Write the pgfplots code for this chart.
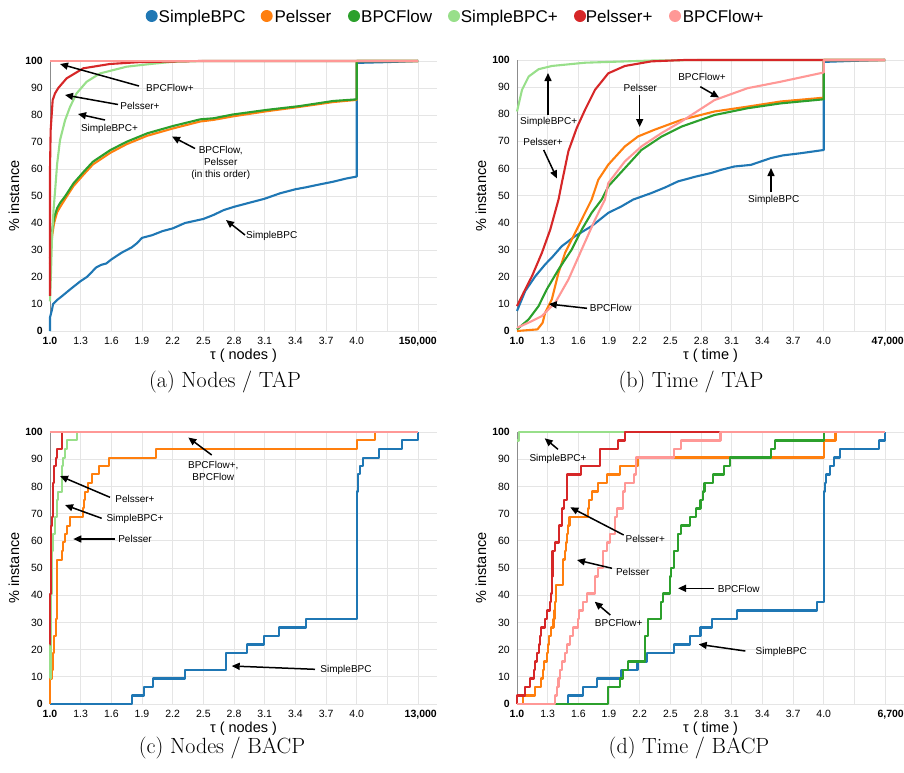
\documentclass[border=0pt]{standalone}
\usepackage{pgfplots}
\pgfplotsset{compat=1.18}
\usepackage{fontspec}
\usetikzlibrary{arrows.meta}
\newfontfamily\arial{Liberation Sans}
\newcommand\tickfont{\arial\fontsize{10.5}{12}\selectfont}
\newcommand\labfont{\arial\fontsize{14.5}{17}\selectfont}
\newcommand\annfont{\arial\fontsize{10}{12}\selectfont}
\newcommand\legfont{\arial\fontsize{17}{20}\selectfont}
\newcommand\capfont{\fontsize{22}{26}\selectfont}
\definecolor{cBlue}{HTML}{1F77B4}
\definecolor{cOrange}{HTML}{FF7F0E}
\definecolor{cGreen}{HTML}{2CA02C}
\definecolor{cLGreen}{HTML}{98DF8A}
\definecolor{cRed}{HTML}{D62728}
\definecolor{cPink}{HTML}{FF9896}
\pgfplotsset{
  myaxis/.style={
    scale only axis, width=387pt,
    xmin=1, xmax=4.785, ymin=0, ymax=100, clip=false,
    axis lines=left, axis line style={-},
    x axis line style={draw=none},
    y axis line style={draw=black!45, line width=0.8pt},
    grid=major, major grid style={draw=black!10, line width=0.8pt},
    major tick length=0pt,
    xtick={1,1.3,1.6,1.9,2.2,2.5,2.8,3.1,3.4,3.7,4,4.3,4.6},
    xticklabels={\textbf{1.0},1.3,1.6,1.9,2.2,2.5,2.8,3.1,3.4,3.7,4.0,{},{}},
    ytick={0,10,20,30,40,50,60,70,80,90,100},
    yticklabels={\textbf{0},10,20,30,40,50,60,70,80,90,\textbf{100}},
    ticklabel style={font=\tickfont},
    xticklabel style={inner sep=0pt, yshift=-5.5pt},
    yticklabel style={inner sep=0pt, xshift=-7pt},
    every axis plot/.append style={line width=2.1pt, no markers, line join=round},
  },
}
\tikzset{
  ann/.style={font=\annfont, align=center, inner sep=0pt},
  arr/.style={-{Triangle[length=8pt,width=7pt]}, line width=1.5pt, black},
}
\begin{document}
\begin{tikzpicture}
\useasboundingbox (0pt,0pt) rectangle (904pt,-772pt);
% legend
\foreach \cx/\tx/\col/\name in {151.7/158.5/cBlue/SimpleBPC, 266.7/274.3/cOrange/Pelsser, 354/361/cGreen/BPCFlow, 454/460.7/cLGreen/SimpleBPC+, 580/585.7/cRed/Pelsser+, 675/682.7/cPink/BPCFlow+}{
  \fill[\col] (\cx pt,-16pt) circle (6pt);
  \node[anchor=base west, inner sep=0pt, font=\legfont] at (\tx pt,-22.5pt) {\name};
}
% ---------------- (a)
\begin{axis}[myaxis, height=270pt, at={(50pt,-331pt)}, anchor=south west]
\addplot[cBlue] coordinates {(1.0,0) (1.0,5) (1.02,8) (1.03,10) (1.07,11.5) (1.12,13) (1.2,15.5) (1.3,18.5) (1.36,20) (1.4,21.5) (1.45,23.5) (1.5,24.5) (1.55,25) (1.6,26.5) (1.7,29) (1.75,30) (1.8,31) (1.85,32.5) (1.9,34.5) (2.0,35.5) (2.1,37) (2.2,38) (2.32,40) (2.5,41.5) (2.6,43) (2.7,44.8) (2.8,46) (2.95,47.5) (3.1,49) (3.25,51) (3.4,52.5) (3.5,53.2) (3.6,54) (3.77,55.3) (3.9,56.5) (4.0,57.2) (4.0,99.3) (4.3,99.6) (4.6,100)};
\addplot[cOrange] coordinates {(1.0,25) (1.01,30) (1.02,35) (1.04,40) (1.07,44) (1.1,46) (1.15,49) (1.23,53.7) (1.33,58) (1.42,61.7) (1.59,66) (1.75,69.2) (1.95,72.3) (2.2,75) (2.47,77.6) (2.6,78.2) (2.79,79.5) (3.12,81.4) (3.44,83) (3.77,84.8) (4.0,85.6) (4.0,100) (4.6,100)};
\addplot[cGreen] coordinates {(1.0,27) (1.01,32) (1.02,37) (1.04,42) (1.07,45.5) (1.1,47.5) (1.15,50) (1.23,54.7) (1.33,59) (1.42,62.7) (1.59,67) (1.75,70.1) (1.95,73.2) (2.2,75.9) (2.47,78.4) (2.6,78.8) (2.79,80.2) (3.12,81.9) (3.44,83.3) (3.77,85.2) (4.0,85.8) (4.0,100) (4.6,100)};
\addplot[cLGreen] coordinates {(1.0,11) (1.01,22) (1.02,35) (1.035,45) (1.05,52) (1.07,62) (1.098,70.7) (1.147,78) (1.196,83) (1.26,88) (1.358,92.3) (1.489,95.4) (1.75,97.9) (2.01,99) (2.2,99.7) (2.5,100) (4.6,100)};
\addplot[cRed] coordinates {(1.0,13) (1.0,60) (1.0065,74.4) (1.026,85.5) (1.049,88) (1.081,90) (1.163,93.6) (1.326,97.3) (1.587,98.9) (1.88,99.6) (2.47,100) (4.6,100)};
\addplot[cPink] coordinates {(1.0,100) (4.6,100)};
\end{axis}
% ---------------- (b)
\begin{axis}[myaxis, height=271pt, at={(517pt,-331pt)}, anchor=south west]
\addplot[cBlue] coordinates {(1.0,7.4) (1.081,14.8) (1.179,20.2) (1.276,24.6) (1.35,27.5) (1.438,31.3) (1.568,35) (1.73,38.7) (1.893,43.6) (2.022,46) (2.136,48.5) (2.314,50.9) (2.45,53) (2.574,55.2) (2.75,57) (2.898,58.3) (3.0,59.5) (3.125,60.7) (3.287,61.3) (3.482,63.8) (3.6,64.8) (3.774,65.6) (4.0,66.8) (4.0,99.3) (4.3,99.7) (4.6,100)};
\addplot[cOrange] coordinates {(1.0,0) (1.2,0.6) (1.25,3) (1.276,6.8) (1.341,11.7) (1.406,21.5) (1.47,28.8) (1.568,36.2) (1.665,43.6) (1.73,48.5) (1.795,55.8) (1.893,61.4) (2.055,68.1) (2.184,71.8) (2.347,74.3) (2.607,77.9) (2.931,81) (3.255,82.8) (3.58,84.7) (4.0,86.1) (4.0,100) (4.6,100)};
\addplot[cGreen] coordinates {(1.0,0.6) (1.114,4.3) (1.211,9.2) (1.29,15.3) (1.406,22.7) (1.536,30.1) (1.633,37.4) (1.73,43.6) (1.828,48.5) (1.893,53.4) (2.055,60.1) (2.217,66.8) (2.412,71.7) (2.607,75.4) (2.931,79.7) (3.255,82.2) (3.58,84) (4.0,85.5) (4.0,100) (4.6,100)};
\addplot[cLGreen] coordinates {(1.0,81) (1.049,89) (1.114,93.9) (1.211,96.6) (1.341,97.8) (1.665,99) (2.314,99.8) (2.8,100) (4.6,100)};
\addplot[cRed] coordinates {(1.0,9.2) (1.065,14.2) (1.146,20.2) (1.243,28.8) (1.325,37.4) (1.406,48.5) (1.438,54.6) (1.503,66.4) (1.584,74.9) (1.665,81.6) (1.763,89) (1.893,95.1) (2.055,97.8) (2.314,99.5) (2.639,100) (4.6,100)};
\addplot[cPink] coordinates {(1.0,1.2) (1.114,3.1) (1.243,5.5) (1.373,10.4) (1.503,19) (1.633,30.1) (1.763,41.1) (1.86,48.5) (1.893,54.6) (2.055,62.6) (2.217,68.1) (2.412,73) (2.607,77.3) (2.931,85.2) (3.255,89.6) (3.58,92) (4.0,95.4) (4.0,100) (4.6,100)};
\end{axis}
% ---------------- (c)
\begin{axis}[myaxis, height=272pt, at={(50pt,-704pt)}, anchor=south west, every axis plot/.append style={const plot}]
\addplot[cBlue] coordinates {(1.0,0) (1.8,3.125) (1.919,6.25) (2.01,9.375) (2.32,12.5) (2.717,18.75) (2.923,21.875) (3.095,25) (3.24,28.125) (3.5,31.25) (4.0,78.125) (4.015,84.4) (4.03,87.5) (4.06,90.6) (4.22,93.75) (4.44,96.9) (4.6,100)};
\addplot[cOrange] coordinates {(1.0,0) (1.0,9.375) (1.016,12.5) (1.033,18.75) (1.042,25) (1.055,31.25) (1.065,37.5) (1.072,53.1) (1.114,56.25) (1.13,59.4) (1.146,62.5) (1.163,65.6) (1.195,68.75) (1.325,71.9) (1.335,75) (1.345,78.1) (1.374,81.25) (1.407,84.4) (1.482,87.5) (1.579,90.6) (2.035,93.75) (4.0,96.9) (4.18,100) (4.6,100)};
\addplot[cGreen] coordinates {(1.0,100) (4.6,100)};
\addplot[cLGreen] coordinates {(1.0,9.375) (1.005,25) (1.01,40.6) (1.016,46.9) (1.02,56.25) (1.033,62.5) (1.049,68.75) (1.065,75) (1.081,78.1) (1.114,84.4) (1.12,87.5) (1.13,90.6) (1.146,93.75) (1.163,96.9) (1.26,100) (4.6,100)};
\addplot[cRed] coordinates {(1.0,21.875) (1.003,40.6) (1.006,59.4) (1.01,65.6) (1.016,68.75) (1.026,78.1) (1.033,81.25) (1.039,87.5) (1.059,90.6) (1.072,93.75) (1.114,100) (4.6,100)};
\addplot[cPink] coordinates {(1.0,100) (4.6,100)};
\end{axis}
% ---------------- (d)
\begin{axis}[myaxis, height=272pt, at={(517pt,-704pt)}, anchor=south west, every axis plot/.append style={const plot}]
\addplot[cBlue] coordinates {(1.0,0) (1.503,3.125) (1.649,6.25) (1.785,9.375) (2.022,12.5) (2.178,15.625) (2.275,18.75) (2.535,21.875) (2.688,25) (2.795,28.125) (2.905,31.25) (3.15,34.375) (3.93,37.5) (4.0,78.125) (4.016,81.25) (4.026,84.375) (4.065,87.5) (4.097,90.625) (4.156,93.75) (4.536,96.875) (4.6,100)};
\addplot[cOrange] coordinates {(1.0,0) (1.055,3.125) (1.179,6.25) (1.237,9.375) (1.25,12.5) (1.26,15.625) (1.292,18.75) (1.302,21.875) (1.315,25) (1.334,28.125) (1.357,31.25) (1.367,34.375) (1.373,37.5) (1.383,43.75) (1.448,53.125) (1.471,56.25) (1.48,59.375) (1.487,62.5) (1.5,65.625) (1.513,68.75) (1.692,71.875) (1.705,75) (1.73,78.125) (1.795,81.25) (1.876,84.375) (2.006,87.5) (2.184,90.625) (4.0,96.875) (4.115,100) (4.6,100)};
\addplot[cGreen] coordinates {(1.0,0) (1.893,6.25) (2.006,9.375) (2.039,12.5) (2.087,15.625) (2.249,18.75) (2.256,25) (2.282,31.25) (2.412,37.5) (2.428,40.625) (2.493,46.875) (2.509,50) (2.535,56.25) (2.574,62.5) (2.607,65.625) (2.688,68.75) (2.753,71.875) (2.795,75) (2.818,78.125) (2.834,81.25) (2.915,84.375) (3.028,87.5) (3.087,90.625) (3.482,93.75) (3.521,96.875) (4.0,100) (4.6,100)};
\addplot[cLGreen] coordinates {(1.0,96.875) (1.016,100) (4.6,100)};
\addplot[cRed] coordinates {(1.0,0) (1.0,3.125) (1.081,6.25) (1.13,9.375) (1.162,12.5) (1.179,15.625) (1.195,18.75) (1.211,21.875) (1.227,25) (1.237,28.125) (1.276,31.25) (1.292,34.375) (1.325,37.5) (1.334,40.625) (1.341,46.875) (1.347,56.25) (1.373,59.375) (1.412,65.625) (1.438,71.875) (1.46,75) (1.487,84.375) (1.627,87.5) (1.812,93.75) (1.99,96.875) (2.055,100) (4.6,100)};
\addplot[cPink] coordinates {(1.0,0) (1.373,3.125) (1.39,6.25) (1.406,9.375) (1.422,12.5) (1.438,15.625) (1.471,18.75) (1.487,21.875) (1.52,25) (1.552,28.125) (1.594,31.25) (1.61,34.375) (1.649,37.5) (1.682,40.625) (1.763,46.875) (1.795,50) (1.844,56.25) (1.876,59.375) (1.909,62.5) (1.958,68.75) (1.974,71.875) (2.039,78.125) (2.055,81.25) (2.146,84.375) (2.168,90.625) (2.535,93.75) (2.607,96.875) (2.99,100) (4.6,100)};
\end{axis}
% ---------------- end labels, axis labels, captions
\node[anchor=north east, inner sep=0pt, font=\tickfont\bfseries] at (437pt,-336.5pt) {150,000};
\node[anchor=north east, inner sep=0pt, font=\tickfont\bfseries] at (904pt,-336.5pt) {47,000};
\node[anchor=north east, inner sep=0pt, font=\tickfont\bfseries] at (437pt,-709.5pt) {13,000};
\node[anchor=north east, inner sep=0pt, font=\tickfont\bfseries] at (904pt,-709.5pt) {6,700};
\node[font=\labfont] at (243.5pt,-355.5pt) {τ ( nodes )};
\node[font=\labfont] at (710.5pt,-355.5pt) {τ ( time )};
\node[font=\labfont] at (243.5pt,-729pt) {τ ( nodes )};
\node[font=\labfont] at (710.5pt,-729pt) {τ ( time )};
\node[font=\labfont, rotate=90] at (14pt,-196pt) {\% instance};
\node[font=\labfont, rotate=90] at (481pt,-196pt) {\% instance};
\node[font=\labfont, rotate=90] at (14pt,-568pt) {\% instance};
\node[font=\labfont, rotate=90] at (481pt,-568pt) {\% instance};
\node[font=\capfont] at (225pt,-382pt) {(a) Nodes / TAP};
\node[font=\capfont] at (691pt,-382pt) {(b) Time / TAP};
\node[font=\capfont] at (222pt,-748pt) {(c) Nodes / BACP};
\node[font=\capfont] at (689pt,-748pt) {(d) Time / BACP};
% ---------------- annotations (a)
\node[ann] at (170pt,-88pt) {BPCFlow+};
\draw[arr] (139pt,-86pt) -- (60pt,-64pt);
\node[ann] at (140pt,-106pt) {Pelsser+};
\draw[arr] (118pt,-104.5pt) -- (65pt,-95pt);
\node[ann] at (109.5pt,-128.5pt) {SimpleBPC+};
\draw[arr] (105pt,-120pt) -- (78pt,-114pt);
\node[ann] at (220.7pt,-162.5pt) {BPCFlow,\\Pelsser\\(in this order)};
\draw[arr] (195pt,-148.5pt) -- (172pt,-136.5pt);
\node[ann] at (271.7pt,-236pt) {SimpleBPC};
\draw[arr] (245pt,-235pt) -- (226pt,-220pt);
% ---------------- annotations (b)
\node[ann] at (548.7pt,-121.7pt) {SimpleBPC+};
\draw[arr] (548pt,-115pt) -- (548pt,-73pt);
\node[ann] at (543pt,-141.7pt) {Pelsser+};
\draw[arr] (543.7pt,-150pt) -- (557pt,-178.5pt);
\node[ann] at (640.3pt,-87.7pt) {Pelsser};
\draw[arr] (639.7pt,-95pt) -- (639.7pt,-127pt);
\node[ann] at (702pt,-76.7pt) {BPCFlow+};
\draw[arr] (700.3pt,-86.7pt) -- (719pt,-97.5pt);
\node[ann] at (773.7pt,-200pt) {SimpleBPC};
\draw[arr] (771pt,-192pt) -- (771pt,-168pt);
\node[ann] at (610.7pt,-308.3pt) {BPCFlow};
\draw[arr] (587pt,-308.3pt) -- (548.7pt,-304pt);
% ---------------- annotations (c)
\node[ann] at (213.3pt,-471pt) {BPCFlow+,\\BPCFlow};
\draw[arr] (211.7pt,-455pt) -- (188.3pt,-437.5pt);
\node[ann] at (135pt,-499pt) {Pelsser+};
\draw[arr] (110pt,-497.3pt) -- (60pt,-476pt);
\node[ann] at (135pt,-519.3pt) {SimpleBPC+};
\draw[arr] (101.7pt,-518.3pt) -- (65pt,-505pt);
\node[ann] at (135pt,-539pt) {Pelsser};
\draw[arr] (115pt,-539pt) -- (73.3pt,-539pt);
\node[ann] at (346pt,-670pt) {SimpleBPC};
\draw[arr] (315pt,-669.3pt) -- (231.7pt,-666pt);
% ---------------- annotations (d)
\node[ann] at (558pt,-459pt) {SimpleBPC+};
\draw[arr] (558pt,-449.3pt) -- (544.7pt,-438.3pt);
\node[ann] at (645.3pt,-539pt) {Pelsser+};
\draw[arr] (623.7pt,-535pt) -- (570.3pt,-507.3pt);
\node[ann] at (632.7pt,-571.7pt) {Pelsser};
\draw[arr] (612pt,-568.3pt) -- (577pt,-560pt);
\node[ann] at (738.7pt,-589.3pt) {BPCFlow};
\draw[arr] (713.7pt,-588.3pt) -- (678pt,-588.3pt);
\node[ann] at (618.7pt,-623.3pt) {BPCFlow+};
\draw[arr] (610.3pt,-615pt) -- (594.7pt,-601.7pt);
\node[ann] at (781.3pt,-652.3pt) {SimpleBPC};
\draw[arr] (745.3pt,-651pt) -- (698.7pt,-644.3pt);
\end{tikzpicture}
\end{document}
